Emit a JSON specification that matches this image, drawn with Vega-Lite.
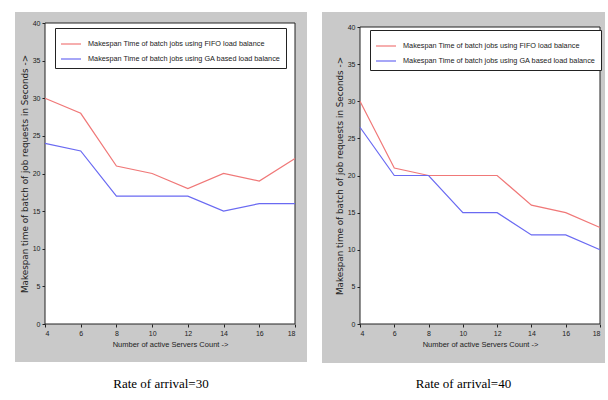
{
  "$schema": "https://vega.github.io/schema/vega-lite/v6.json",
  "background": "white",
  "padding": {"left": 15, "top": 12, "right": 3, "bottom": 2},
  "autosize": {"type": "pad"},
  "config": {
    "view": {"fill": "#c9c9c9", "stroke": null},
    "font": "Liberation Sans",
    "axis": {"labelFontSize": 7, "titleFontSize": 7.5, "titleFontWeight": "normal", "labelColor": "#222222", "titleColor": "#222222", "tickColor": "#222222", "domain": false, "grid": false, "tickSize": 3, "labelPadding": 2, "zindex": 1},
    "axisY": {"titleFont": "DejaVu Sans", "titleFontSize": 8.8}
  },
  "datasets": {
    "frame": [{"panel": "plot"}],
    "r30": [
      {"method": "Makespan Time of batch jobs using FIFO load balance", "servers": 4, "time": 30},
      {"method": "Makespan Time of batch jobs using FIFO load balance", "servers": 6, "time": 28},
      {"method": "Makespan Time of batch jobs using FIFO load balance", "servers": 8, "time": 21},
      {"method": "Makespan Time of batch jobs using FIFO load balance", "servers": 10, "time": 20},
      {"method": "Makespan Time of batch jobs using FIFO load balance", "servers": 12, "time": 18},
      {"method": "Makespan Time of batch jobs using FIFO load balance", "servers": 14, "time": 20},
      {"method": "Makespan Time of batch jobs using FIFO load balance", "servers": 16, "time": 19},
      {"method": "Makespan Time of batch jobs using FIFO load balance", "servers": 18, "time": 22},
      {"method": "Makespan Time of batch jobs using GA based load balance", "servers": 4, "time": 24},
      {"method": "Makespan Time of batch jobs using GA based load balance", "servers": 6, "time": 23},
      {"method": "Makespan Time of batch jobs using GA based load balance", "servers": 8, "time": 17},
      {"method": "Makespan Time of batch jobs using GA based load balance", "servers": 10, "time": 17},
      {"method": "Makespan Time of batch jobs using GA based load balance", "servers": 12, "time": 17},
      {"method": "Makespan Time of batch jobs using GA based load balance", "servers": 14, "time": 15},
      {"method": "Makespan Time of batch jobs using GA based load balance", "servers": 16, "time": 16},
      {"method": "Makespan Time of batch jobs using GA based load balance", "servers": 18, "time": 16}
    ],
    "r40": [
      {"method": "Makespan Time of batch jobs using FIFO load balance", "servers": 4, "time": 30},
      {"method": "Makespan Time of batch jobs using FIFO load balance", "servers": 6, "time": 21},
      {"method": "Makespan Time of batch jobs using FIFO load balance", "servers": 8, "time": 20},
      {"method": "Makespan Time of batch jobs using FIFO load balance", "servers": 10, "time": 20},
      {"method": "Makespan Time of batch jobs using FIFO load balance", "servers": 12, "time": 20},
      {"method": "Makespan Time of batch jobs using FIFO load balance", "servers": 14, "time": 16},
      {"method": "Makespan Time of batch jobs using FIFO load balance", "servers": 16, "time": 15},
      {"method": "Makespan Time of batch jobs using FIFO load balance", "servers": 18, "time": 13},
      {"method": "Makespan Time of batch jobs using GA based load balance", "servers": 4, "time": 26.5},
      {"method": "Makespan Time of batch jobs using GA based load balance", "servers": 6, "time": 20},
      {"method": "Makespan Time of batch jobs using GA based load balance", "servers": 8, "time": 20},
      {"method": "Makespan Time of batch jobs using GA based load balance", "servers": 10, "time": 15},
      {"method": "Makespan Time of batch jobs using GA based load balance", "servers": 12, "time": 15},
      {"method": "Makespan Time of batch jobs using GA based load balance", "servers": 14, "time": 12},
      {"method": "Makespan Time of batch jobs using GA based load balance", "servers": 16, "time": 12},
      {"method": "Makespan Time of batch jobs using GA based load balance", "servers": 18, "time": 10}
    ]
  },
  "spacing": 15,
  "resolve": {
    "scale": {"x": "independent", "y": "independent", "color": "independent"},
    "legend": {"color": "independent"}
  },
  "hconcat": [
    {
      "width": 292,
      "height": 350,
      "title": {"text": "Rate of arrival=30", "orient": "bottom", "anchor": "middle", "font": "Liberation Serif", "fontSize": 13, "fontWeight": "normal", "color": "black", "offset": 16},
      "layer": [
        {
          "data": {"name": "frame"},
          "mark": {"type": "rect", "fill": "white", "stroke": "#222222", "strokeWidth": 1},
          "encoding": {
            "x": {"datum": 4, "type": "quantitative", "scale": {"domain": [4, 18], "range": [30, 280], "nice": false, "zero": false},
              "axis": {"values": [4, 6, 8, 10, 12, 14, 16, 18], "offset": -38, "title": "Number of active Servers Count ->", "titlePadding": 4}},
            "x2": {"datum": 18},
            "y": {"datum": 0, "type": "quantitative", "scale": {"domain": [0, 40], "range": [312, 11], "nice": false},
              "axis": {"values": [0, 5, 10, 15, 20, 25, 30, 35, 40], "offset": -30, "title": "Makespan time of batch of job requests in Seconds ->", "titlePadding": 3}},
            "y2": {"datum": 40}
          }
        },
        {
          "data": {"name": "r30"},
          "mark": {"type": "line", "strokeWidth": 1.2},
          "encoding": {
            "x": {"field": "servers", "type": "quantitative", "scale": {"domain": [4, 18], "range": [30, 280], "nice": false, "zero": false},
              "axis": {"values": [4, 6, 8, 10, 12, 14, 16, 18], "offset": -38, "title": "Number of active Servers Count ->", "titlePadding": 4}},
            "y": {"field": "time", "type": "quantitative", "scale": {"domain": [0, 40], "range": [312, 11], "nice": false},
              "axis": {"values": [0, 5, 10, 15, 20, 25, 30, 35, 40], "offset": -30, "title": "Makespan time of batch of job requests in Seconds ->", "titlePadding": 3}},
            "color": {"field": "method", "type": "nominal",
              "scale": {"domain": ["Makespan Time of batch jobs using FIFO load balance", "Makespan Time of batch jobs using GA based load balance"], "range": ["#f07878", "#6a6af2"]},
              "legend": {"title": null, "orient": "none", "legendX": 40, "legendY": 16, "symbolType": "stroke", "symbolSize": 400, "symbolStrokeWidth": 1.2, "labelFontSize": 7.3, "labelColor": "#222222", "labelLimit": 400, "strokeColor": "#222222", "fillColor": "white", "padding": 5, "rowPadding": 0, "labelOffset": 6}}
          }
        }
      ]
    },
    {
      "width": 283,
      "height": 351,
      "title": {"text": "Rate of arrival=40", "orient": "bottom", "anchor": "middle", "font": "Liberation Serif", "fontSize": 13, "fontWeight": "normal", "color": "black", "offset": 15},
      "layer": [
        {
          "data": {"name": "frame"},
          "mark": {"type": "rect", "fill": "white", "stroke": "#222222", "strokeWidth": 1},
          "encoding": {
            "x": {"datum": 4, "type": "quantitative", "scale": {"domain": [4, 18], "range": [38, 278], "nice": false, "zero": false},
              "axis": {"values": [4, 6, 8, 10, 12, 14, 16, 18], "offset": -39, "title": "Number of active Servers Count ->", "titlePadding": 4}},
            "x2": {"datum": 18},
            "y": {"datum": 0, "type": "quantitative", "scale": {"domain": [0, 40], "range": [312, 15], "nice": false},
              "axis": {"values": [0, 5, 10, 15, 20, 25, 30, 35, 40], "offset": -38, "title": "Makespan time of batch of job requests in Seconds ->", "titlePadding": 3}},
            "y2": {"datum": 40}
          }
        },
        {
          "data": {"name": "r40"},
          "mark": {"type": "line", "strokeWidth": 1.2},
          "encoding": {
            "x": {"field": "servers", "type": "quantitative", "scale": {"domain": [4, 18], "range": [38, 278], "nice": false, "zero": false},
              "axis": {"values": [4, 6, 8, 10, 12, 14, 16, 18], "offset": -39, "title": "Number of active Servers Count ->", "titlePadding": 4}},
            "y": {"field": "time", "type": "quantitative", "scale": {"domain": [0, 40], "range": [312, 15], "nice": false},
              "axis": {"values": [0, 5, 10, 15, 20, 25, 30, 35, 40], "offset": -38, "title": "Makespan time of batch of job requests in Seconds ->", "titlePadding": 3}},
            "color": {"field": "method", "type": "nominal",
              "scale": {"domain": ["Makespan Time of batch jobs using FIFO load balance", "Makespan Time of batch jobs using GA based load balance"], "range": ["#f07878", "#6a6af2"]},
              "legend": {"title": null, "orient": "none", "legendX": 48, "legendY": 18, "symbolType": "stroke", "symbolSize": 400, "symbolStrokeWidth": 1.2, "labelFontSize": 7.3, "labelColor": "#222222", "labelLimit": 400, "strokeColor": "#222222", "fillColor": "white", "padding": 5, "rowPadding": 0, "labelOffset": 6}}
          }
        }
      ]
    }
  ]
}
